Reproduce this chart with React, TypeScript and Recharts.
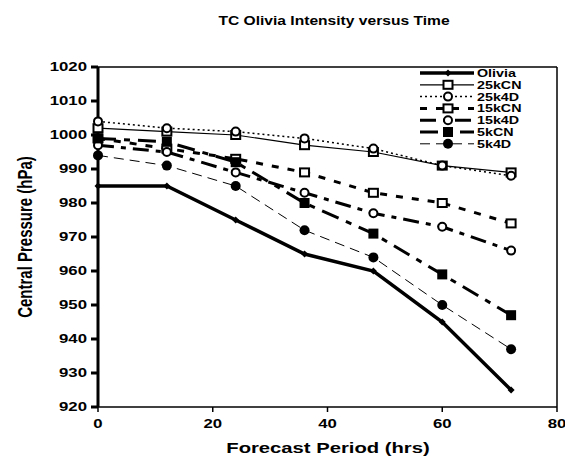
import React from 'react';
import { LineChart, Line, XAxis, YAxis, ReferenceLine, Label } from 'recharts';

const hours = [0, 12, 24, 36, 48, 60, 72];
const olivia = [985, 985, 975, 965, 960, 945, 925];
const k25CN = [1002, 1001, 1000, 997, 995, 991, 989];
const k25_4D = [1004, 1002, 1001, 999, 996, 991, 988];
const k15CN = [999, 996, 993, 989, 983, 980, 974];
const k15_4D = [997, 995, 989, 983, 977, 973, 966];
const k5CN = [999, 998, 992, 980, 971, 959, 947];
const k5_4D = [994, 991, 985, 972, 964, 950, 937];

const xTicks = [0, 20, 40, 60, 80];
const yTicks = [920, 930, 940, 950, 960, 970, 980, 990, 1000, 1010, 1020];

const data = hours.map((h, i) => ({
  hour: h,
  Olivia: olivia[i],
  '25kCN': k25CN[i],
  '25k4D': k25_4D[i],
  '15kCN': k15CN[i],
  '15k4D': k15_4D[i],
  '5kCN': k5CN[i],
  '5k4D': k5_4D[i],
}));

type Marker = 'diamond' | 'openSquare' | 'openCircle' | 'square' | 'circle';

const series: { key: string; width: number; dash?: string; marker: Marker }[] = [
  { key: 'Olivia', width: 3.5, marker: 'diamond' },
  { key: '25kCN', width: 1.2, marker: 'openSquare' },
  { key: '25k4D', width: 1.5, dash: '2 3', marker: 'openCircle' },
  { key: '15kCN', width: 3, dash: '7 9', marker: 'openSquare' },
  { key: '15k4D', width: 3, dash: '16 7 5 7', marker: 'openCircle' },
  { key: '5kCN', width: 3, dash: '18 8 6 8', marker: 'square' },
  { key: '5k4D', width: 1, dash: '10 6', marker: 'circle' },
];

const font = 'Liberation Sans, Arial, sans-serif';

const drawMarker = (m: Marker, cx: number, cy: number, k?: string) => {
  switch (m) {
    case 'diamond':
      return <path key={k} d={`M${cx},${cy - 3.5}L${cx + 3.5},${cy}L${cx},${cy + 3.5}L${cx - 3.5},${cy}Z`} fill="#000" />;
    case 'openSquare':
      return <rect key={k} x={cx - 4.5} y={cy - 4} width={9} height={8} fill="#fff" stroke="#000" strokeWidth={2} />;
    case 'openCircle':
      return <circle key={k} cx={cx} cy={cy} r={4} fill="#fff" stroke="#000" strokeWidth={2} />;
    case 'square':
      return <rect key={k} x={cx - 5} y={cy - 5} width={10} height={10} fill="#000" />;
    default:
      return <circle key={k} cx={cx} cy={cy} r={5} fill="#000" />;
  }
};

// the source picture is stretched sideways, so the text is too
const YTick = ({ x, y, payload }: any) => (
  <text
    transform={`translate(${x},${y}) scale(1.4,1)`}
    textAnchor="end"
    dy="0.36em"
    fill="#000"
    style={{ fontFamily: font, fontWeight: 'bold', fontSize: 12 }}
  >
    {payload.value}
  </text>
);

const XTick = ({ x, y, payload }: any) => (
  <text
    transform={`translate(${x},${y}) scale(1.4,1)`}
    textAnchor="middle"
    dy="0.75em"
    fill="#000"
    style={{ fontFamily: font, fontWeight: 'bold', fontSize: 12 }}
  >
    {payload.value}
  </text>
);

const LegendBox = () => (
  <svg width={150} height={90} style={{ position: 'absolute', left: 415, top: 66 }}>
    {series.map((s, i) => {
      const cy = 7 + i * 11.8;
      return (
        <g key={s.key}>
          <line x1={5} y1={cy} x2={59} y2={cy} stroke="#000" strokeWidth={s.width} strokeDasharray={s.dash} />
          {drawMarker(s.marker, 33, cy)}
          <text
            transform={`translate(62,${cy}) scale(1.3,1)`}
            dy="0.36em"
            fill="#000"
            style={{ fontFamily: font, fontWeight: 'bold', fontSize: 11 }}
          >
            {s.key}
          </text>
        </g>
      );
    })}
  </svg>
);

export default function App() {
  return (
    <div style={{ position: 'absolute', left: 0, top: 0, width: 565, height: 459, background: '#fff' }}>
      <svg width={565} height={40} style={{ position: 'absolute', left: 0, top: 0 }}>
        <text
          transform="translate(334,20) scale(1.25,1)"
          textAnchor="middle"
          dy="0.36em"
          fill="#000"
          style={{ fontFamily: font, fontWeight: 'bold', fontSize: 12.5 }}
        >
          TC Olivia Intensity versus Time
        </text>
      </svg>
      <LineChart width={565} height={459} data={data} margin={{ top: 67, right: 8, bottom: 0, left: 0 }}>
        <XAxis
          dataKey="hour"
          type="number"
          domain={[0, 80]}
          ticks={xTicks}
          height={52}
          tickSize={5}
          tickMargin={7}
          stroke="#000"
          strokeWidth={1.5}
          tick={<XTick />}
        >
          <Label
            content={({ viewBox }: any) => (
              <text
                transform={`translate(328,${viewBox.y + 41}) scale(1.35,1)`}
                textAnchor="middle"
                dy="0.36em"
                fill="#000"
                style={{ fontFamily: font, fontWeight: 'bold', fontSize: 15 }}
              >
                Forecast Period (hrs)
              </text>
            )}
          />
        </XAxis>
        <YAxis
          type="number"
          domain={[920, 1020]}
          ticks={yTicks}
          width={98}
          tickSize={7}
          tickMargin={4}
          stroke="#000"
          strokeWidth={3}
          tick={<YTick />}
        >
          <Label
            content={({ viewBox }: any) => (
              <text
                transform={`translate(24,${viewBox.y + viewBox.height / 2}) scale(1.4,1) rotate(-90)`}
                textAnchor="middle"
                dy="0.36em"
                fill="#000"
                style={{ fontFamily: font, fontWeight: 'bold', fontSize: 15 }}
              >
                Central Pressure (hPa)
              </text>
            )}
          />
        </YAxis>
        <ReferenceLine y={1020} stroke="#000" strokeWidth={1.5} />
        <ReferenceLine x={80} stroke="#000" strokeWidth={1.5} />
        {series.map((s) => (
          <Line
            key={s.key}
            dataKey={s.key}
            type="linear"
            stroke="#000"
            strokeWidth={s.width}
            strokeDasharray={s.dash}
            isAnimationActive={false}
            dot={(p: any) => drawMarker(s.marker, p.cx, p.cy, `${s.key}-${p.index}`)}
            activeDot={false}
          />
        ))}
      </LineChart>
      <LegendBox />
    </div>
  );
}
